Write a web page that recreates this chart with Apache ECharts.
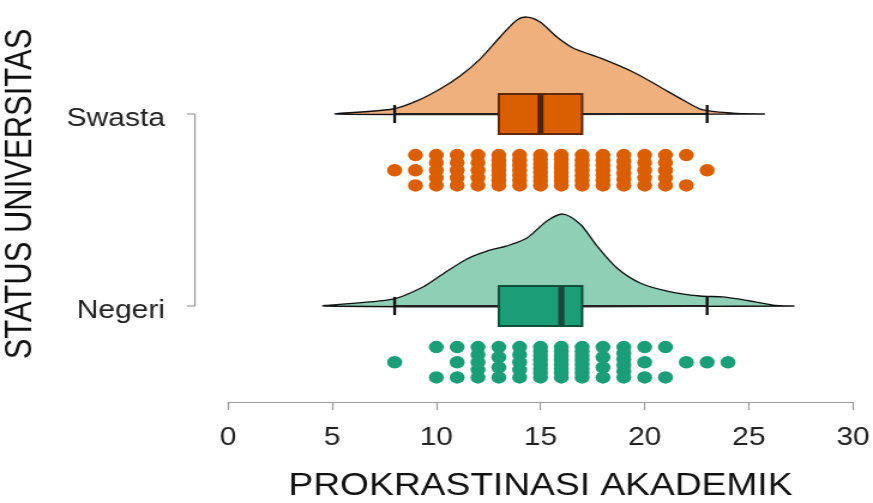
<!DOCTYPE html>
<html>
<head>
<meta charset="utf-8">
<script src="https://cdn.jsdelivr.net/npm/echarts@6/dist/echarts.min.js"></script>
<style>
html,body{margin:0;padding:0;background:#fff;}
#wrap{width:873px;height:503px;overflow:hidden;position:relative;}
#c{width:728px;height:503px;transform:scaleX(1.19918);transform-origin:0 0;}
</style>
</head>
<body>
<div id="wrap"><div id="c"></div></div>
<script>
// ---- data ----
const categories = ['Negeri', 'Swasta'];          // y = 1, y = 2
const xAxisTitle = 'PROKRASTINASI AKADEMIK';
const yAxisTitle = 'STATUS UNIVERSITAS';

// box-plot statistics (Negeri, Swasta)
const whiskerLow  = [8, 8];
const boxQ1       = [13, 13];
const boxMedian   = [16, 15];
const boxQ3       = [17, 17];
const whiskerHigh = [23, 23];

// density curves (x value, density height in y-axis units)
const negeriDensityX = [4.66, 7.92, 9.36, 10.32, 11.47, 12.43, 13.39, 14.35, 15.31, 16.08, 16.90, 17.71, 18.67, 19.78, 21.08, 22.66, 23.76, 25.06, 26.16, 27.12];
const negeriDensityY = [0, 0.036, 0.099, 0.167, 0.245, 0.286, 0.313, 0.354, 0.443, 0.479, 0.427, 0.313, 0.198, 0.120, 0.078, 0.052, 0.047, 0.026, 0.005, 0];
const swastaDensityX = [5.23, 7.92, 9.07, 10.18, 11.14, 12.10, 13.06, 13.87, 14.35, 14.98, 15.79, 16.56, 17.86, 19.44, 20.74, 21.84, 22.80, 24.24, 25.68];
const swastaDensityY = [0, 0.026, 0.068, 0.130, 0.198, 0.286, 0.401, 0.490, 0.505, 0.479, 0.401, 0.344, 0.292, 0.219, 0.141, 0.073, 0.021, 0.005, 0];

// raw scores: distinct values and how many observations each
const negeriScoreValues = [8, 10, 11, 12, 13, 14, 15, 16, 17, 18, 19, 20, 21, 22, 23, 24];
const negeriScoreCounts = [1, 2, 3, 5, 4, 5, 8, 8, 8, 4, 6, 3, 2, 1, 1, 1];
const swastaScoreValues = [8, 9, 10, 11, 12, 13, 14, 15, 16, 17, 18, 19, 20, 21, 22, 23];
const swastaScoreCounts = [1, 3, 5, 5, 5, 7, 7, 8, 8, 7, 7, 6, 5, 5, 2, 1];

// ---- styling / layout constants ----
const densityX = [negeriDensityX, swastaDensityX];
const densityY = [negeriDensityY, swastaDensityY];
const densityColors = ['#8ecfb6', '#f0b07e'];
const boxColors = ['#1b9e77', '#d95f02'];
const boxBorder = ['#0f4f3c', '#5e2b08'];
const medianColors = ['#17453a', '#4f2408'];
const dotColors = ['#1b9e77', '#d95f02'];
const BOX_HALF = 0.104, TICK_HALF = 0.047, DOT_TOP = 0.214, DOT_BOTTOM = 0.372;
const FONT = '"Liberation Sans", Arial, Helvetica, sans-serif';
const Y_OFFSET = 27.5, Y_TICK_LEN = 6.7;

function dotLayout(values, counts, base) {
  const out = [];
  values.forEach((v, i) => {
    const n = counts[i];
    for (let k = 0; k < n; k++) {
      const off = n === 1 ? (DOT_TOP + DOT_BOTTOM) / 2 : DOT_TOP + (DOT_BOTTOM - DOT_TOP) * k / (n - 1);
      out.push([v, base - off]);
    }
  });
  return out;
}

const chart = echarts.init(document.getElementById('c'), null, {renderer: 'canvas'});

const option = {
  backgroundColor: '#fff',
  animation: false,
  textStyle: {fontFamily: FONT},
  grid: {left: 190.1, right: 16.7, top: 18, bottom: 101, containLabel: false, outerBoundsMode: 'none'},
  xAxis: {
    type: 'value', min: 0, max: 30, interval: 5,
    splitLine: {show: false},
    axisLine: {show: true, lineStyle: {color: '#9a9a9a', width: 1.2}},
    axisTick: {show: true, length: 8, lineStyle: {color: '#9a9a9a', width: 1.2}},
    axisLabel: {fontSize: 25, color: '#222', margin: 24, fontFamily: FONT},
    name: xAxisTitle, nameLocation: 'middle', nameGap: 69,
    nameTextStyle: {fontSize: 31, color: '#111', fontFamily: FONT}
  },
  yAxis: {
    type: 'value', min: 0.5, max: 2.5, offset: Y_OFFSET,
    splitLine: {show: false},
    axisLine: {show: false},
    axisTick: {show: false},
    axisLabel: {show: true, customValues: [1, 2], margin: 25, fontSize: 25, color: '#222', fontFamily: FONT,
      formatter: v => '{c|' + (categories[Math.round(v) - 1] || '') + '}',
      rich: {c: {fontSize: 25, color: '#222', fontFamily: FONT, padding: [10, 0, 0, 0]}}}
  },
  series: [
    {
      type: 'custom',
      name: 'raincloud',
      data: [[0], [1]],
      encode: {x: -1, y: -1},
      renderItem: function (params, api) {
        const g = api.value(0);
        const base = g + 1;
        const c = (x, y) => api.coord([x, y]);
        const pts = densityX[g].map((x, i) => c(x, base + densityY[g][i]));
        const wy = c(0, base)[1];
        const wx1 = c(whiskerLow[g], base)[0], wx2 = c(whiskerHigh[g], base)[0];
        const bx1 = c(boxQ1[g], base)[0], bx2 = c(boxQ3[g], base)[0];
        const byTop = c(0, base + BOX_HALF)[1], byBot = c(0, base - BOX_HALF)[1];
        const mx = c(boxMedian[g], base)[0];
        const tTop = c(0, base + TICK_HALF)[1], tBot = c(0, base - TICK_HALF)[1];
        return {
          type: 'group',
          children: [
            {type: 'polygon', shape: {points: pts, smooth: 0.3}, style: {fill: densityColors[g], stroke: '#111', lineWidth: 1.3}},
            {type: 'line', shape: {x1: wx1, y1: wy, x2: wx2, y2: wy}, style: {stroke: '#222', lineWidth: 1.8}},
            {type: 'line', shape: {x1: wx1, y1: tTop, x2: wx1, y2: tBot}, style: {stroke: '#111', lineWidth: 2.4}},
            {type: 'line', shape: {x1: wx2, y1: tTop, x2: wx2, y2: tBot}, style: {stroke: '#111', lineWidth: 2.4}},
            {type: 'rect', shape: {x: bx1, y: byTop, width: bx2 - bx1, height: byBot - byTop}, style: {fill: boxColors[g], stroke: boxBorder[g], lineWidth: 2}},
            {type: 'line', shape: {x1: mx, y1: byTop, x2: mx, y2: byBot}, style: {stroke: medianColors[g], lineWidth: 5}}
          ]
        };
      },
      z: 2
    },
    {
      type: 'scatter', name: categories[0],
      data: dotLayout(negeriScoreValues, negeriScoreCounts, 1),
      symbolSize: 12.5, itemStyle: {color: dotColors[0], opacity: 1}, z: 3
    },
    {
      type: 'scatter', name: categories[1],
      data: dotLayout(swastaScoreValues, swastaScoreCounts, 2),
      symbolSize: 12.5, itemStyle: {color: dotColors[1], opacity: 1}, z: 3
    }
  ]
};
chart.setOption(option);

// y-axis bracket (line between the two categories + ticks) and the rotated y title
const p1 = chart.convertToPixel({gridIndex: 0}, [0, 1]);
const p2 = chart.convertToPixel({gridIndex: 0}, [0, 2]);
const axisX = p1[0] - Y_OFFSET;
const axisStyle = {stroke: '#9a9a9a', lineWidth: 1.2};
chart.setOption({
  graphic: [
    {type: 'line', shape: {x1: axisX, y1: p1[1], x2: axisX, y2: p2[1]}, style: axisStyle, z: 5},
    {type: 'line', shape: {x1: axisX - Y_TICK_LEN, y1: p1[1], x2: axisX, y2: p1[1]}, style: axisStyle, z: 5},
    {type: 'line', shape: {x1: axisX - Y_TICK_LEN, y1: p2[1], x2: axisX, y2: p2[1]}, style: axisStyle, z: 5},
    {type: 'text', x: 17.5, y: 194, rotation: Math.PI / 2,
      style: {text: yAxisTitle, fontSize: 31, fill: '#111', fontFamily: FONT, align: 'center', verticalAlign: 'middle'}}
  ]
});
</script>
</body>
</html>
